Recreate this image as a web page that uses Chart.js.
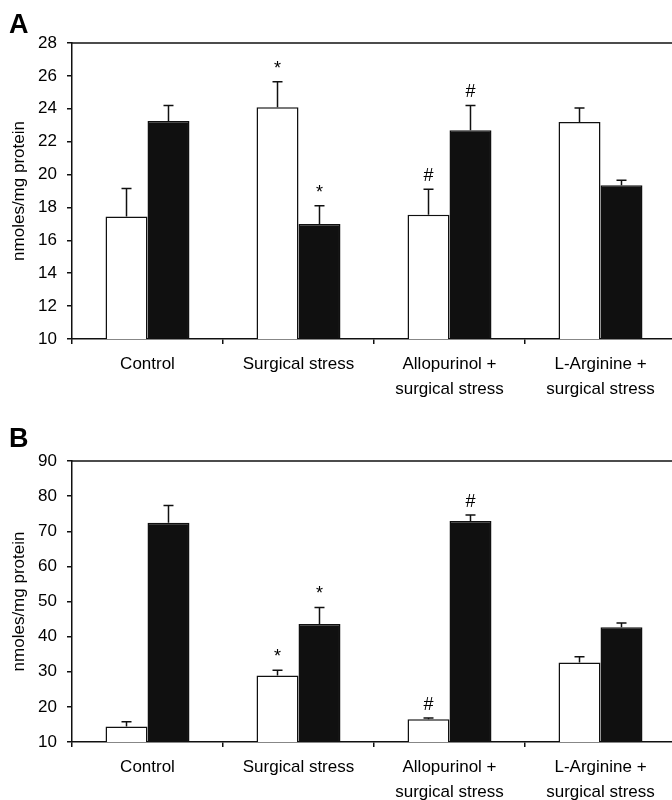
<!DOCTYPE html>
<html>
<head>
<meta charset="utf-8">
<script src="https://cdn.jsdelivr.net/npm/chart.js@4.4.1/dist/chart.umd.min.js"></script>
<style>
  html, body { margin: 0; padding: 0; background: #fff; overflow: hidden; width: 672px; height: 800px; }
  .panel { position: absolute; left: 0; width: 680px; }
  #pa { top: 0; height: 400px; }
  #pb { top: 400px; height: 430px; }
</style>
</head>
<body>
<div class="panel" id="pa"><canvas id="chartA" width="680" height="400"></canvas></div>
<div class="panel" id="pb"><canvas id="chartB" width="680" height="430"></canvas></div>
<script>
const categories = [['Control'], ['Surgical stress'], ['Allopurinol +', 'surgical stress'], ['L-Arginine +', 'surgical stress']];

// panel A
const whiteA = [17.45, 24.1, 17.55, 23.2];
const whiteErrA = [1.7, 1.55, 1.55, 0.85];
const blackA = [23.25, 17.0, 22.7, 19.35];
const blackErrA = [0.95, 1.1, 1.5, 0.3];
const whiteMarkA = ['', '*', '#', ''];
const blackMarkA = ['', '*', '#', ''];

// panel B
const whiteB = [14.4, 28.9, 16.5, 32.6];
const whiteErrB = [1.4, 1.5, 0.3, 1.7];
const blackB = [72.4, 43.6, 72.9, 42.7];
const blackErrB = [4.9, 4.7, 1.7, 1.2];
const whiteMarkB = ['', '*', '#', ''];
const blackMarkB = ['', '*', '#', ''];

const FONT = "'Liberation Sans', Arial, sans-serif";
const INK = '#101010';

// error bars, significance marks, top frame line and panel letter
const decor = {
  id: 'decor',
  afterDatasetsDraw(chart, args, opts) {
    const ctx = chart.ctx;
    const y = chart.scales.y;
    const area = chart.chartArea;
    ctx.save();
    ctx.strokeStyle = INK;
    ctx.fillStyle = '#000';
    ctx.lineWidth = 1.5;
    chart.data.datasets.forEach((ds, i) => {
      chart.getDatasetMeta(i).data.forEach((bar, j) => {
        const top = y.getPixelForValue(ds.data[j] + ds.errors[j]);
        ctx.beginPath();
        ctx.moveTo(bar.x, bar.y);
        ctx.lineTo(bar.x, top);
        ctx.moveTo(bar.x - 5, top);
        ctx.lineTo(bar.x + 5, top);
        ctx.stroke();
        if (ds.marks[j]) {
          ctx.font = '18px ' + FONT;
          ctx.textAlign = 'center';
          ctx.textBaseline = 'alphabetic';
          ctx.fillText(ds.marks[j], bar.x, top - 8);
        }
      });
    });
    ctx.beginPath();
    ctx.moveTo(area.left, area.top);
    ctx.lineTo(area.right, area.top);
    ctx.stroke();
    ctx.font = 'bold 27px ' + FONT;
    ctx.textAlign = 'left';
    ctx.textBaseline = 'alphabetic';
    ctx.fillText(opts.letter, 9, opts.letterY);
    ctx.restore();
  }
};

function makeChart(id, white, whiteErr, whiteMark, black, blackErr, blackMark, yMin, yMax, step, padTop, plotBottom, letter, letterY) {
  const canvas = document.getElementById(id);
  const H = canvas.height;
  return new Chart(canvas, {
    type: 'bar',
    data: {
      labels: categories,
      datasets: [
        {
          data: white, errors: whiteErr, marks: whiteMark,
          backgroundColor: '#ffffff', borderColor: INK, borderWidth: 1.5,
          categoryPercentage: 0.556, barPercentage: 1.0
        },
        {
          data: black, errors: blackErr, marks: blackMark,
          backgroundColor: '#101010', borderColor: INK, borderWidth: 1.5,
          categoryPercentage: 0.556, barPercentage: 1.0
        }
      ]
    },
    options: {
      responsive: false,
      animation: false,
      devicePixelRatio: 1,
      layout: { padding: { top: padTop, left: 0, right: 4, bottom: 0 } },
      plugins: {
        legend: { display: false },
        tooltip: { enabled: false },
        decor: { letter: letter, letterY: letterY }
      },
      scales: {
        x: {
          grid: { display: true, drawOnChartArea: false, drawTicks: true, tickLength: 5, color: INK, lineWidth: 1.5 },
          border: { display: true, color: INK, width: 1.5 },
          ticks: { color: '#000', font: { family: FONT, size: 17, lineHeight: 1.47 }, padding: 8, maxRotation: 0, autoSkip: false },
          afterFit(s) { s.height = H - plotBottom; }
        },
        y: {
          min: yMin, max: yMax,
          grid: { display: true, drawOnChartArea: false, drawTicks: true, tickLength: 5, color: INK, lineWidth: 1.5 },
          border: { display: true, color: INK, width: 1.5 },
          ticks: { stepSize: step, color: '#000', font: { family: FONT, size: 17 }, padding: 10 },
          title: { display: true, text: 'nmoles/mg protein', color: '#000', font: { family: FONT, size: 17 }, padding: { top: 9, bottom: 0 } },
          afterFit(s) { s.width = 72; }
        }
      }
    },
    plugins: [decor]
  });
}

makeChart('chartA', whiteA, whiteErrA, whiteMarkA, blackA, blackErrA, blackMarkA, 10, 28, 2, 43, 339, 'A', 33);
makeChart('chartB', whiteB, whiteErrB, whiteMarkB, blackB, blackErrB, blackMarkB, 10, 90, 10, 61, 342, 'B', 47);
</script>
</body>
</html>
